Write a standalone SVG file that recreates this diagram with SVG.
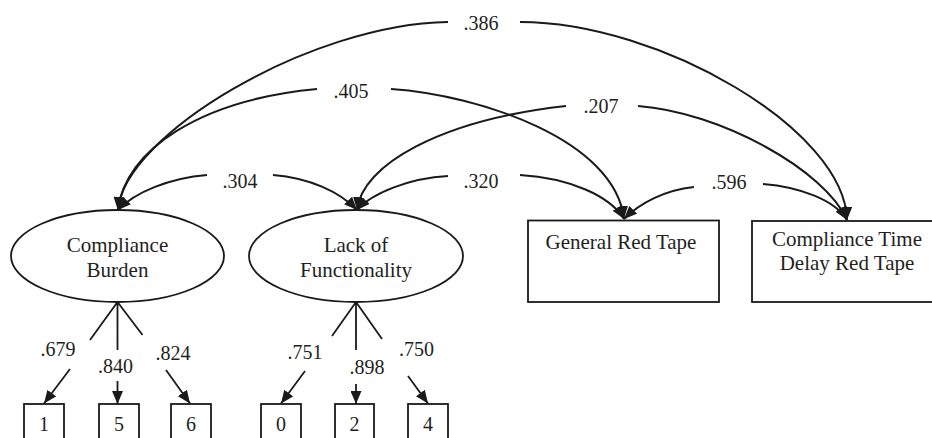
<svg xmlns="http://www.w3.org/2000/svg" width="932" height="438" viewBox="0 0 932 438">
<defs>
<marker id="ah" viewBox="0 0 13 11" refX="13" refY="5.5" markerWidth="13" markerHeight="11" markerUnits="userSpaceOnUse" orient="auto-start-reverse">
<path d="M0,0 L13,5.5 L0,11 z" fill="#1a1a1a"/>
</marker>
<style>
.t{font-family:"Liberation Serif","Times New Roman",serif;fill:#231f20;text-anchor:middle}
.lbl{font-size:21px}
.num{font-size:20px}
.shape{fill:#fff;stroke:#1a1a1a;stroke-width:1.8}
.arc{fill:none;stroke:#1a1a1a;stroke-width:2;marker-start:url(#ah);marker-end:url(#ah)}
.ld{fill:none;stroke:#1a1a1a;stroke-width:1.8}
.arr{fill:none;stroke:#1a1a1a;stroke-width:1.8;marker-end:url(#ah)}
</style>
</defs>
<rect width="932" height="438" fill="#fff"/>

<g id="connectors">
<path class="arc" d="M118,210 C124,135 310,24 448,22 M520,22 C660,22 845,130 847,220"/>
<path class="arc" d="M118,210 C125,150 200,100 317,89 M391,89 C480,95 615,140 624,219"/>
<path class="arc" d="M118,210 C135,192 170,178 207,175 M273,175 C310,178 340,192 357,210"/>
<path class="arc" d="M357,210 C372,193 410,178 448,176 M520,175 C570,178 610,196 624,219"/>
<path class="arc" d="M357,210 C362,165 440,120 566,106 M638,106 C720,112 825,170 847,220"/>
<path class="arc" d="M624,219 C640,203 665,190 694,187 M763,184 C800,187 835,200 847,220"/>

<path class="ld" d="M90,340 L117.5,302 L117.5,350 M117.5,302 L142.5,335"/>
<path class="ld" d="M332,336 L356,302 L356,350 M356,302 L382,339"/>

<path class="arr" d="M70,369 L44,403.5"/>
<path class="arr" d="M117.5,381 L117.5,404"/>
<path class="arr" d="M166,370 L190,403.5"/>
<path class="arr" d="M305,371 L281,403.5"/>
<path class="arr" d="M356,384 L356,404"/>
<path class="arr" d="M408,376 L428,403.5"/>

<text class="t num" x="481" y="30">.386</text>
<text class="t num" x="351" y="98">.405</text>
<text class="t num" x="601" y="113">.207</text>
<text class="t num" x="240" y="188">.304</text>
<text class="t num" x="481" y="188">.320</text>
<text class="t num" x="729" y="189">.596</text>
<text class="t num" x="58" y="356">.679</text>
<text class="t num" x="115.5" y="373">.840</text>
<text class="t num" x="173" y="360">.824</text>
<text class="t num" x="305" y="359">.751</text>
<text class="t num" x="367" y="374">.898</text>
<text class="t num" x="416.5" y="356">.750</text>
</g>

<g id="compliance-burden">
<ellipse class="shape" cx="117.5" cy="256" rx="106.5" ry="46"/>
<text class="t lbl" x="117.5" y="252">Compliance</text>
<text class="t lbl" x="117.5" y="277">Burden</text>
</g>
<g id="lack-of-functionality">
<ellipse class="shape" cx="356" cy="256" rx="107" ry="46"/>
<text class="t lbl" x="356" y="252">Lack of</text>
<text class="t lbl" x="356" y="277">Functionality</text>
</g>
<g id="general-red-tape">
<rect class="shape" x="528" y="220.5" width="191" height="81.5"/>
<text class="t lbl" x="621" y="249">General Red Tape</text>
</g>
<g id="compliance-time-delay">
<rect class="shape" x="752" y="221" width="190" height="81"/>
<text class="t lbl" x="847" y="246">Compliance Time</text>
<text class="t lbl" x="847" y="270">Delay Red Tape</text>
</g>

<g id="item-1"><rect class="shape" x="24" y="404" width="40" height="50"/><text class="t num" x="44" y="431">1</text></g>
<g id="item-5"><rect class="shape" x="99" y="404" width="40" height="50"/><text class="t num" x="119" y="431">5</text></g>
<g id="item-6"><rect class="shape" x="171" y="404" width="40" height="50"/><text class="t num" x="191" y="431">6</text></g>
<g id="item-0"><rect class="shape" x="261" y="404" width="40" height="50"/><text class="t num" x="281" y="431">0</text></g>
<g id="item-2"><rect class="shape" x="335" y="404" width="39" height="50"/><text class="t num" x="354.5" y="431">2</text></g>
<g id="item-4"><rect class="shape" x="408" y="404" width="40" height="50"/><text class="t num" x="428" y="431">4</text></g>
</svg>
